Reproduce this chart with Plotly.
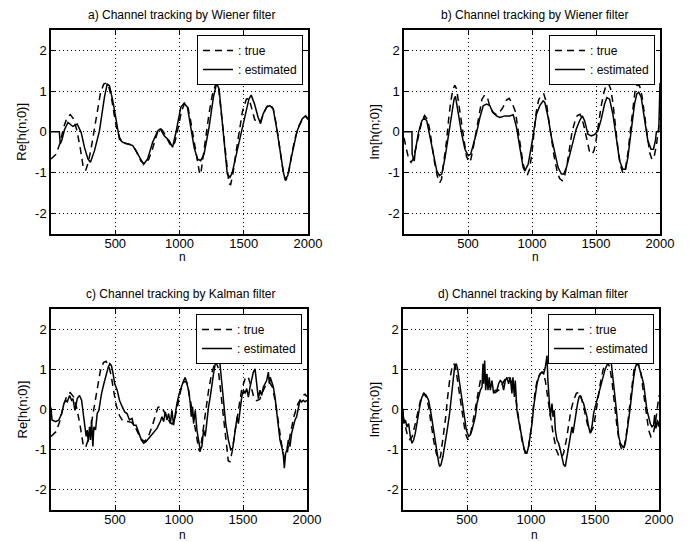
import plotly.graph_objects as go

# ---------------- data ----------------
# true channel, real part (shared by panels a and c)
N_TRUE_RE = [0, 40, 70, 100, 125, 150, 175, 200, 225, 250, 270, 290, 310, 335, 360, 385, 410, 430,
             450, 470, 490, 510, 535, 560, 600, 630, 660, 700, 730, 760, 790, 815, 835, 855, 875,
             900, 925, 945, 965, 990, 1015, 1040, 1060, 1085, 1110, 1135, 1155, 1165, 1180, 1205,
             1230, 1255, 1285, 1305, 1325, 1345, 1365, 1385, 1398, 1415, 1440, 1465, 1490, 1520,
             1540, 1560, 1585, 1605, 1630, 1655, 1680, 1705, 1730, 1755, 1785, 1810, 1825, 1845,
             1870, 1900, 1930, 1960, 1985, 2000]
TRUE_RE = [-0.67, -0.55, -0.28, 0.12, 0.35, 0.42, 0.32, 0.05, -0.35, -0.85, -0.95, -0.75, -0.45,
           0.0, 0.55, 0.95, 1.17, 1.2, 1.1, 0.85, 0.45, 0.1, -0.15, -0.28, -0.3, -0.32, -0.45,
           -0.72, -0.8, -0.68, -0.42, -0.12, 0.05, 0.08, 0.0, -0.15, -0.3, -0.36, -0.25, 0.1, 0.5,
           0.7, 0.68, 0.3, -0.2, -0.65, -1.0, -1.05, -0.7, -0.1, 0.45, 0.9, 1.2, 1.05, 0.45, -0.2,
           -0.85, -1.28, -1.3, -1.05, -0.5, 0.05, 0.5, 0.8, 0.82, 0.6, 0.3, 0.22, 0.25, 0.45, 0.62,
           0.68, 0.56, 0.15, -0.55, -1.05, -1.2, -1.1, -0.6, -0.15, 0.15, 0.32, 0.38, 0.32]

# true channel, imaginary part (shared by panels b and d)
N_TRUE_IM = [0, 15, 35, 55, 72, 96, 122, 140, 161, 182, 200, 219, 239, 260, 280, 293, 312, 331, 349,
             364, 383, 397, 411, 427, 448, 469, 487, 507, 522, 539, 557, 573, 591, 609, 630, 651,
             669, 695, 721, 747, 773, 800, 822, 845, 870, 890, 911, 929, 948, 963, 981, 1000, 1018,
             1034, 1052, 1073, 1092, 1112, 1130, 1151, 1172, 1198, 1216, 1236, 1255, 1276, 1294,
             1312, 1333, 1354, 1375, 1392, 1411, 1432, 1450, 1470, 1486, 1502, 1521, 1541, 1562,
             1580, 1598, 1614, 1632, 1651, 1672, 1692, 1711, 1729, 1750, 1770, 1789, 1807, 1825,
             1841, 1859, 1880, 1901, 1919, 1937, 1953, 1971, 1989, 2000]
TRUE_IM = [-0.15, -0.35, -0.65, -0.75, -0.67, -0.35, 0.07, 0.27, 0.4, 0.31, 0.07, -0.35, -0.76,
           -1.09, -1.25, -1.17, -0.76, -0.26, 0.31, 0.72, 1.05, 1.14, 1.05, 0.72, 0.23, -0.26,
           -0.59, -0.75, -0.68, -0.43, -0.1, 0.23, 0.56, 0.8, 0.9, 0.85, 0.64, 0.48, 0.42, 0.48,
           0.6, 0.78, 0.82, 0.7, 0.5, 0.07, -0.43, -0.76, -1.0, -1.07, -0.92, -0.51, 0.05, 0.5,
           0.78, 0.9, 0.93, 0.72, 0.31, -0.18, -0.59, -1.0, -1.15, -1.2, -1.09, -0.76, -0.35,
           -0.02, 0.23, 0.4, 0.43, 0.31, 0.07, -0.26, -0.5, -0.55, -0.45, -0.18, 0.23, 0.64, 0.97,
           1.15, 1.18, 1.06, 0.72, 0.15, -0.43, -0.84, -1.02, -0.92, -0.51, 0.07, 0.64, 1.05,
           1.17, 1.12, 0.89, 0.4, -0.18, -0.51, -0.68, -0.63, -0.35, 0.07, 0.35]

# a) Wiener estimate, real part
N_EST_A = [0, 65, 72, 85, 105, 132, 170, 204, 235, 261, 287, 307, 338, 377, 416, 437, 455, 481,
           506, 532, 558, 597, 636, 661, 700, 721, 752, 791, 830, 850, 881, 920, 946, 972, 1010,
           1036, 1062, 1088, 1114, 1140, 1165, 1191, 1230, 1264, 1289, 1308, 1333, 1359, 1372,
           1393, 1411, 1437, 1476, 1514, 1540, 1558, 1584, 1612, 1631, 1651, 1677, 1703, 1729,
           1755, 1786, 1811, 1824, 1842, 1876, 1915, 1953, 1979, 2000]
EST_A = [0.0, 0.0, -0.3, -0.2, 0.05, 0.23, 0.13, 0.19, -0.02, -0.39, -0.67, -0.75, -0.47, 0.02,
         0.85, 1.17, 1.13, 0.76, 0.31, -0.18, -0.26, -0.3, -0.34, -0.47, -0.71, -0.8, -0.67,
         -0.26, 0.02, 0.07, -0.1, -0.22, -0.38, -0.02, 0.6, 0.7, 0.6, 0.11, -0.39, -0.67, -0.71,
         -0.55, 0.11, 0.85, 1.19, 1.05, 0.27, -0.55, -1.04, -1.12, -1.0, -0.63, -0.06, 0.48, 0.8,
         0.9, 0.68, 0.35, 0.2, 0.44, 0.6, 0.64, 0.56, 0.11, -0.55, -1.04, -1.17, -1.08, -0.55,
         0.02, 0.31, 0.39, 0.3]

# b) Wiener estimate, imaginary part
N_EST_B = [0, 62, 64, 80, 87, 113, 139, 157, 178, 204, 230, 256, 277, 295, 321, 347, 373, 391,
           402, 425, 451, 476, 502, 521, 541, 567, 593, 619, 645, 671, 692, 723, 749, 788, 827,
           853, 879, 905, 931, 944, 970, 996, 1015, 1035, 1061, 1087, 1100, 1126, 1152, 1178,
           1204, 1230, 1248, 1269, 1294, 1320, 1346, 1372, 1393, 1411, 1437, 1463, 1489, 1515,
           1541, 1567, 1585, 1606, 1632, 1658, 1684, 1710, 1731, 1749, 1775, 1801, 1819, 1834,
           1853, 1879, 1905, 1930, 1949, 1964, 1972, 1990, 2000]
EST_B = [0.0, 0.0, -0.55, -0.72, -0.5, -0.02, 0.27, 0.34, 0.27, -0.14, -0.63, -0.96, -1.08, -1.04,
         -0.63, -0.14, 0.43, 0.8, 0.87, 0.43, -0.06, -0.43, -0.59, -0.55, -0.34, -0.02, 0.35,
         0.64, 0.68, 0.64, 0.48, 0.39, 0.35, 0.39, 0.39, 0.42, 0.11, -0.39, -0.88, -0.96, -0.8,
         -0.34, 0.0, 0.43, 0.64, 0.76, 0.72, 0.35, -0.14, -0.55, -0.88, -1.04, -1.04, -0.88,
         -0.55, -0.22, 0.07, 0.27, 0.39, 0.27, -0.06, -0.1, -0.07, 0.02, 0.31, 0.68, 0.84, 0.8,
         0.43, -0.14, -0.71, -0.92, -0.92, -0.63, 0.02, 0.68, 0.93, 0.97, 0.85, 0.35, -0.22,
         -0.43, -0.43, -0.22, 0.0, 0.0, 1.2]

# c) Kalman estimate, real part
N_EST_C = [0, 8, 36, 62, 83, 101, 114, 127, 145, 161, 171, 187, 205, 223, 239, 252, 265, 275, 283,
           291, 301, 309, 317, 327, 335, 348, 361, 374, 395, 413, 431, 447, 459, 472, 483, 498,
           517, 535, 556, 576, 594, 613, 633, 646, 665, 685, 706, 724, 742, 763, 789, 810, 828,
           854, 867, 880, 893, 906, 919, 932, 945, 958, 971, 984, 1002, 1010, 1023, 1036, 1049,
           1062, 1075, 1088, 1096, 1106, 1114, 1127, 1140, 1153, 1166, 1179, 1192, 1205, 1218,
           1231, 1244, 1257, 1270, 1288, 1303, 1314, 1329, 1347, 1365, 1386, 1404, 1420, 1433,
           1443, 1454, 1464, 1477, 1490, 1503, 1516, 1529, 1542, 1555, 1568, 1581, 1594, 1607,
           1620, 1633, 1646, 1659, 1672, 1685, 1698, 1706, 1713, 1724, 1737, 1750, 1763, 1776,
           1789, 1802, 1815, 1823, 1833, 1843, 1854, 1867, 1880, 1893, 1906, 1919, 1932, 1945,
           1958, 1971, 1984, 2000]
EST_C = [0.05, -0.26, -0.3, -0.26, -0.1, 0.15, 0.23, 0.19, 0.35, 0.23, 0.27, -0.02, 0.27, 0.35,
         0.23, -0.18, -0.43, -0.67, -0.51, -0.8, -0.43, -0.76, -0.26, -0.92, -0.43, -0.51, -0.1,
         -0.02, 0.4, 0.64, 0.89, 1.05, 1.14, 1.09, 0.93, 0.64, 0.48, 0.23, 0.07, -0.06, -0.1,
         -0.26, -0.22, -0.39, -0.39, -0.59, -0.76, -0.84, -0.8, -0.72, -0.63, -0.55, -0.47, -0.3,
         -0.18, -0.3, -0.06, -0.26, -0.1, -0.35, -0.02, -0.39, -0.06, 0.15, 0.4, 0.48, 0.56, 0.72,
         0.8, 0.64, 0.48, 0.15, -0.18, 0.07, -0.35, -0.02, -0.51, -0.76, -1.0, -0.92, -0.51,
         -0.67, -0.26, 0.07, 0.31, 0.64, 0.89, 1.22, 1.4, 1.34, 0.89, 0.23, -0.35, -0.76, -1.0,
         -0.96, -0.67, -0.51, -0.18, -0.35, 0.07, 0.31, 0.48, 0.4, 0.52, 0.31, 0.56, 0.72, 0.93,
         1.01, 0.56, 0.27, 0.48, 0.35, 0.56, 0.64, 0.72, 0.93, 0.64, 0.8, 0.68, 0.56, 0.31, -0.1,
         -0.43, -0.76, -0.92, -1.13, -1.46, -1.09, -1.0, -0.76, -0.92, -0.59, -0.43, -0.26, -0.18,
         0.07, 0.23, 0.19, 0.23, 0.19, 0.23]

# d) Kalman estimate, imaginary part
N_EST_D = [0, 5, 18, 31, 44, 57, 70, 83, 96, 109, 122, 135, 148, 166, 182, 200, 219, 234, 252, 265,
           279, 286, 297, 312, 331, 349, 364, 375, 390, 403, 416, 427, 443, 461, 479, 495, 513,
           526, 539, 552, 565, 578, 591, 604, 617, 625, 630, 638, 646, 656, 664, 674, 682, 695,
           708, 721, 734, 747, 760, 773, 786, 799, 812, 825, 838, 851, 859, 870, 877, 890, 903,
           916, 929, 942, 955, 968, 981, 994, 1008, 1021, 1034, 1047, 1060, 1073, 1086, 1099,
           1112, 1125, 1132, 1143, 1151, 1164, 1172, 1182, 1190, 1203, 1216, 1229, 1242, 1255,
           1268, 1281, 1294, 1307, 1320, 1328, 1338, 1351, 1364, 1375, 1385, 1398, 1411, 1424,
           1437, 1450, 1463, 1476, 1489, 1502, 1515, 1528, 1541, 1554, 1567, 1580, 1599, 1614,
           1625, 1635, 1646, 1659, 1672, 1685, 1698, 1711, 1724, 1737, 1750, 1763, 1776, 1789,
           1802, 1815, 1828, 1841, 1854, 1867, 1880, 1893, 1906, 1919, 1932, 1945, 1958, 1966,
           1976, 1987, 1997, 2000]
EST_D = [0.02, -0.35, -0.26, -0.43, -0.35, -0.67, -0.84, -0.76, -0.59, -0.35, -0.06, 0.15, 0.31,
         0.4, 0.35, 0.23, -0.1, -0.43, -0.76, -1.09, -1.33, -1.42, -1.37, -1.17, -0.84, -0.43,
         -0.1, 0.23, 0.72, 1.05, 1.14, 1.01, 0.64, 0.23, -0.18, -0.51, -0.67, -0.63, -0.51,
         -0.35, -0.18, 0.15, 0.31, 0.48, 0.56, 1.14, 0.64, 1.22, 0.48, 0.89, 0.48, 0.8, 0.48,
         0.72, 0.4, 0.48, 0.48, 0.64, 0.72, 0.68, 0.48, 0.72, 0.8, 0.64, 0.8, 0.4, 0.8, 0.31,
         0.72, -0.02, -0.26, -0.51, -0.76, -0.92, -1.09, -1.09, -0.92, -0.67, -0.35, 0.07, 0.4,
         0.64, 0.8, 0.89, 0.93, 0.89, 1.05, 1.34, 0.72, 0.07, -0.18, 0.15, -0.18, -0.02, -0.51,
         -0.76, -0.84, -1.0, -1.21, -1.37, -1.42, -1.17, -1.0, -0.67, -0.43, -0.59, -0.35, -0.1,
         0.15, 0.31, 0.35, 0.23, 0.15, -0.02, -0.18, -0.43, -0.59, -0.43, -0.1, 0.07, 0.23, 0.4,
         0.56, 0.72, 0.89, 1.01, 1.14, 1.26, 1.22, 0.97, 0.64, 0.23, -0.18, -0.67, -0.84, -0.92,
         -0.96, -0.84, -0.59, -0.26, 0.07, 0.48, 0.8, 1.05, 1.14, 1.09, 0.97, 0.8, 0.64, 0.31,
         -0.02, -0.18, -0.35, -0.43, -0.39, -0.14, -0.47, -0.26, -0.43, -0.3]

TITLES = ["a) Channel tracking by Wiener filter", "b) Channel tracking by Wiener filter",
          "c) Channel tracking by Kalman filter", "d) Channel tracking by Kalman filter"]
YLABELS = ["Re[h(n;0)]", "Im[h(n;0)]", "Re[h(n;0)]", "Im[h(n;0)]"]
XLABEL = "n"
LEGEND_NAMES = [": true", ": estimated"]
X_TICKS = [500, 1000, 1500, 2000]
Y_TICKS = [-2, -1, 0, 1, 2]
Y_TICK_TEXT = ["-2", "-1", "0", "1", "2"]

# ---------------- layout ----------------
W, H = 689, 542
FONT = "Liberation Sans, Arial, Helvetica, sans-serif"


def fx(p):
    return p / W


def fy(p):
    return 1 - p / H


# plot frames in pixels: (left, right, top, bottom)
FRAMES = [(51, 308, 30, 233.5), (404, 660, 30, 233.5),
          (51, 307, 309, 510), (403, 659, 309, 510)]
XLABEL_OFFSET = [23, 23, 25, 25]

series = [(N_TRUE_RE, TRUE_RE, N_EST_A, EST_A),
          (N_TRUE_IM, TRUE_IM, N_EST_B, EST_B),
          (N_TRUE_RE, TRUE_RE, N_EST_C, EST_C),
          (N_TRUE_IM, TRUE_IM, N_EST_D, EST_D)]

fig = go.Figure()
layout = dict(width=W, height=H, margin=dict(l=0, r=0, t=0, b=0),
              paper_bgcolor="white", plot_bgcolor="white",
              font=dict(family=FONT, size=12, color="black"), annotations=[])

for i, ((nt, vt, ne, ve), (l, r, t, b)) in enumerate(zip(series, FRAMES)):
    k = "" if i == 0 else str(i + 1)
    leg = "legend" + k
    fig.add_trace(go.Scatter(x=nt, y=vt, mode="lines", name=LEGEND_NAMES[0],
                             line=dict(color="black", width=1.5, dash="7px,5px"),
                             xaxis="x" + k, yaxis="y" + k, legend=leg))
    fig.add_trace(go.Scatter(x=ne, y=ve, mode="lines", name=LEGEND_NAMES[1],
                             line=dict(color="black", width=1.5),
                             xaxis="x" + k, yaxis="y" + k, legend=leg))
    common = dict(showline=True, linecolor="black", linewidth=1.5, mirror="ticks",
                  ticks="inside", ticklen=4, tickcolor="black", tickwidth=1,
                  showgrid=True, gridcolor="black", gridwidth=1, griddash="1px,3px",
                  zeroline=False, tickfont=dict(family=FONT, size=13, color="black"),
                  automargin=False)
    layout["xaxis" + k] = dict(common, domain=[fx(l), fx(r)], range=[0, 2000],
                               tickvals=X_TICKS, anchor="y" + k, ticklabelstandoff=-3)
    layout["yaxis" + k] = dict(common, domain=[fy(b), fy(t)], range=[-2.5, 2.5],
                               tickvals=Y_TICKS, ticktext=Y_TICK_TEXT, anchor="x" + k)
    layout[leg] = dict(x=fx(r - 5), y=fy(t + 5), xanchor="right", yanchor="top",
                       bgcolor="white", bordercolor="black", borderwidth=1,
                       font=dict(family=FONT, size=12, color="black"),
                       tracegroupgap=0, itemwidth=30)
    cx = (l + r) / 2
    layout["annotations"] += [
        dict(text=TITLES[i], x=fx(cx + 2), y=fy(t - 15), xref="paper", yref="paper",
             showarrow=False, xanchor="center", yanchor="middle",
             font=dict(family=FONT, size=12, color="black")),
        dict(text=YLABELS[i], x=fx(l - 29), y=fy((t + b) / 2), xref="paper", yref="paper",
             showarrow=False, xanchor="center", yanchor="middle", textangle=-90,
             font=dict(family=FONT, size=13, color="black")),
        dict(text=XLABEL, x=fx(cx + 3), y=fy(b + XLABEL_OFFSET[i]), xref="paper", yref="paper",
             showarrow=False, xanchor="center", yanchor="middle",
             font=dict(family=FONT, size=12, color="black")),
    ]

fig.update_layout(**layout)
fig.write_html("out.html")
